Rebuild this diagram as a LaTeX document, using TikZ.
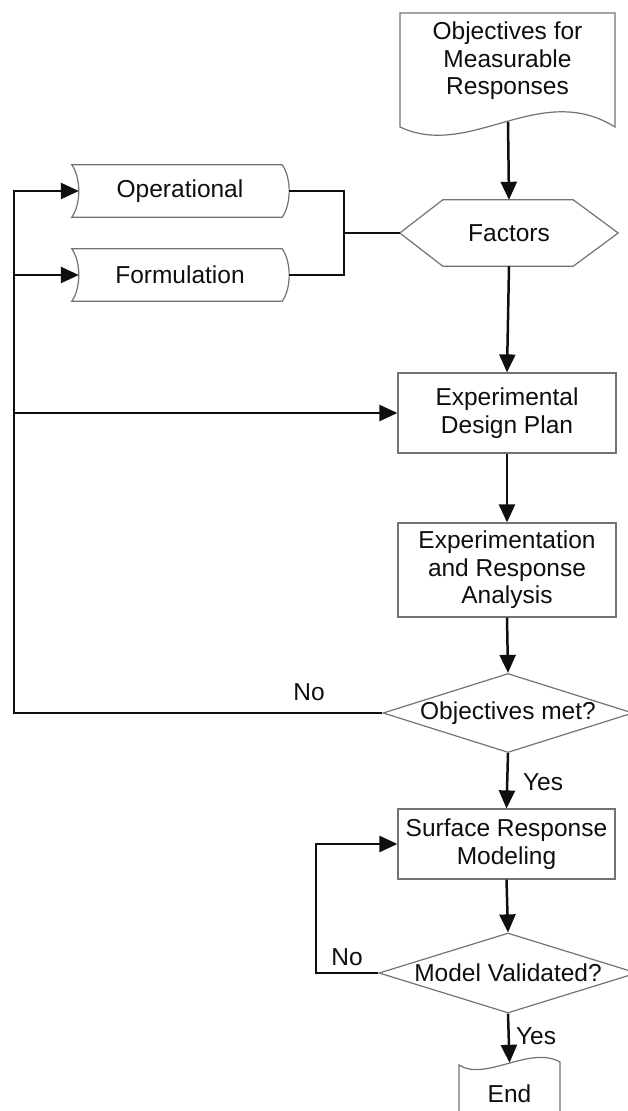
\documentclass[tikz,border=0pt]{standalone}
\usepackage{fontspec}
\setmainfont{Liberation Sans}
\usetikzlibrary{arrows.meta,shapes.geometric}
\definecolor{outl}{RGB}{115,115,115}
\definecolor{ink}{RGB}{15,15,15}
\tikzset{
  txt/.style={font=\fontsize{24.5}{27.5}\selectfont, align=center, text=ink, inner sep=0pt},
  boxn/.style={txt, draw=outl, line width=1.2pt, fill=white, minimum width=218pt},
  shapeline/.style={draw=outl, line width=1.2pt, fill=white},
  conn/.style={draw=ink, line width=2.5pt},
  arr/.style={conn, -{Triangle[length=18pt,width=16pt]}},
  dia/.style={txt, diamond, aspect=3.125, draw=outl, line width=1.2pt, fill=white}
}
\begin{document}
\begin{tikzpicture}[x=1pt,y=-1pt]
\useasboundingbox (0,0) rectangle (628,1111);
\fill[white] (0,0) rectangle (628,1111);
\clip (0,0) rectangle (628,1111);

% Objectives document
\path[shapeline] (400,127) -- (400,13) -- (615,13) -- (615,127)
   .. controls (540,80) and (470,160) .. (400,127) -- cycle;
\node[txt, minimum width=215pt, minimum height=96pt] (obj) at (507.5,61) {Objectives for\\Measurable\\Responses};
\coordinate (objb) at (508,122);

% Factors hexagon
\node[txt, minimum width=218pt, minimum height=66pt] (fac) at (509,233) {};
\path[shapeline] (fac.west) -- ([xshift=43pt]fac.north west) -- ([xshift=-45pt]fac.north east)
   -- (fac.east) -- ([xshift=-45pt]fac.south east) -- ([xshift=43pt]fac.south west) -- cycle;
\node[txt] at (fac) {Factors};

% Operational / Formulation
\node[txt, minimum width=210pt, minimum height=52pt] (op) at (177,191) {};
\path[shapeline] (op.north west) -- (op.north east) .. controls +(9.3,13) and +(9.3,-13) .. (op.south east)
   -- (op.south west) .. controls +(9.3,-13) and +(9.3,13) .. (op.north west) -- cycle;
\node[txt] at ([xshift=3pt]op.center) {Operational};

\node[txt, minimum width=210pt, minimum height=52pt] (fo) at (177,275) {};
\path[shapeline] (fo.north west) -- (fo.north east) .. controls +(9.3,13) and +(9.3,-13) .. (fo.south east)
   -- (fo.south west) .. controls +(9.3,-13) and +(9.3,13) .. (fo.north west) -- cycle;
\node[txt] at ([xshift=3pt]fo.center) {Formulation};

% Process boxes
\node[boxn, minimum height=80pt] (edp) at (507,413) {Experimental\\Design Plan};
\node[boxn, minimum height=94pt] (era) at (507,570) {Experimentation\\and Response\\Analysis};
\node[dia, minimum width=250pt, minimum height=79pt] (q1) at (508,713) {Objectives met?};
\node[boxn, minimum width=217pt, minimum height=70pt] (srm) at (506.5,844) {Surface Response\\Modeling};
\node[dia, minimum width=258pt, minimum height=80pt] (q2) at (508,973) {Model Validated?};

% End document (top wavy)
\path[shapeline] (459,1130) -- (459,1065) .. controls (485,1082) and (530,1045) .. (560,1062) -- (560,1130);
\node[txt, minimum width=101pt, minimum height=62pt] (end) at (509.5,1094) {End};

% Main flow
\draw[arr] (objb) -- (fac.north);
\draw[arr] (fac.south) -- (edp.north);
\draw[arr] (edp.south) -- (era.north);
\draw[arr] (era.south) -- (q1.north);
\draw[arr] (q1.south) -- (srm.north);
\draw[arr] (srm.south) -- (q2.north);
\draw[arr] (q2.south) -- (end.north);

% Factors inputs
\coordinate (jn) at (344,233);
\draw[conn] ([xshift=7pt]op.east) -| (jn) |- ([xshift=7pt]fo.east);
\draw[conn] (jn) -- (fac.west);

% Feedback trunk
\coordinate (trunk) at (14,713);
\draw[arr] (q1.west) -- (trunk) |- ([xshift=7pt]op.west);
\draw[arr] (trunk |- fo.west) -- ([xshift=7pt]fo.west);
\draw[arr] (trunk |- edp.west) -- (edp.west);

% Model feedback
\coordinate (fb) at (316,973);
\draw[arr] (q2.west) -- (fb) |- (srm.west);

% Labels
\node[txt] (no1) at (309,692) {No};
\node[txt] (yes1) at (543,782) {Yes};
\node[txt] (no2) at (347,957) {No};
\node[txt] (yes2) at (536,1036) {Yes};
\end{tikzpicture}
\end{document}
